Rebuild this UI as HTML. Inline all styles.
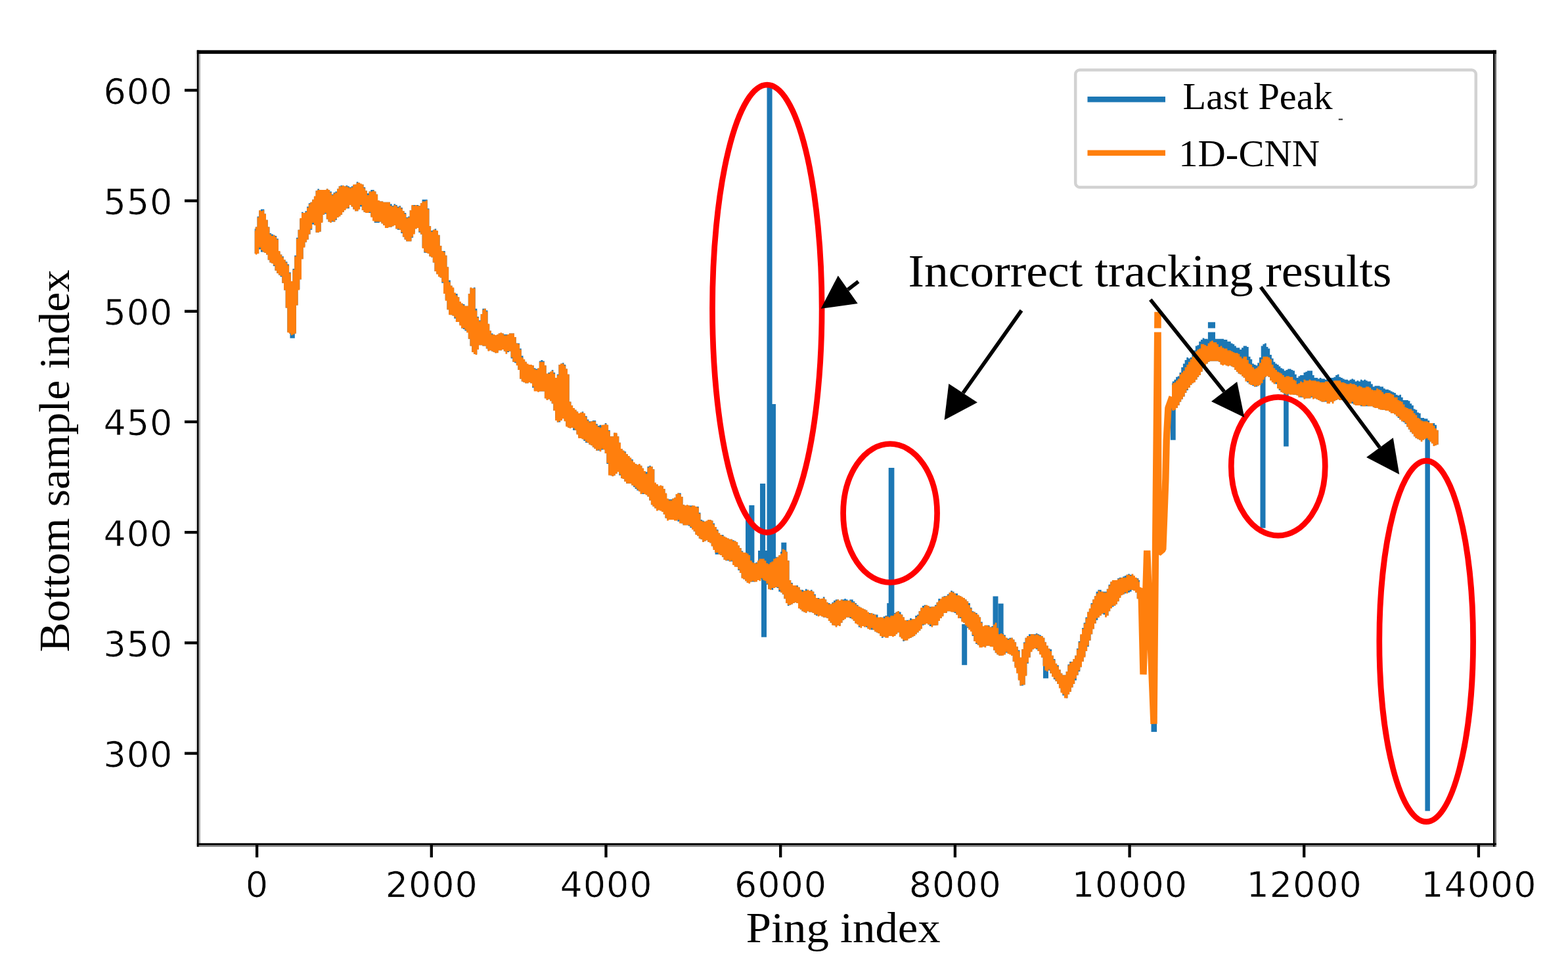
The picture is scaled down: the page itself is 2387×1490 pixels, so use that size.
<!DOCTYPE html>
<html lang="en"><head><meta charset="utf-8"><title>Bottom tracking comparison</title>
<style>html,body{margin:0;padding:0;background:#fff;}body{width:2387px;height:1490px;overflow:hidden;}svg{display:block;}.tk{font-family:"DejaVu Sans","Liberation Sans",sans-serif;font-size:54px;letter-spacing:0.9px;fill:#000;stroke:#fff;stroke-width:0.7px;}.sf{font-family:"Liberation Serif","DejaVu Serif",serif;fill:#000;}</style></head><body>
<svg width="2387" height="1490" viewBox="0 0 2387 1490">
<defs><filter id="soft" x="-2%" y="-2%" width="104%" height="104%"><feGaussianBlur stdDeviation="0.55"/></filter></defs>
<rect width="2387" height="1490" fill="#fff"/>
<g id="curves" filter="url(#soft)">
<g id="last-peak" fill="#1f77b4" stroke="none">
<path d="M387.7 348.3 V348.3 H388.8 V345.6 H391.5 V329.4 H394.2 V321.3 H396.9 V318.6 H399.6 V318.6 H402.3 V325.4 H405 V334.8 H407.7 V345.6 H410.4 V355.1 H413.1 V356.4 H415.8 V357.8 H418.5 V359.1 H421.2 V363.2 H423.9 V383.4 H426.6 V387.5 H429.3 V390.2 H432 V395.6 H434.7 V398.2 H437.4 V402.3 H440.1 V414.5 H442.8 V428 H445.5 V409.1 H448.2 V388.8 H450.9 V361.8 H453.6 V349.7 H456.3 V333.5 H459 V322.7 H461.7 V324 H464.4 V321.3 H467.1 V314.6 H469.8 V309.2 H472.5 V307.8 H475.2 V303.8 H477.9 V299.7 H480.6 V290.2 H483.3 V287.6 H486 V290.2 H488.7 V288.9 H491.4 V288.9 H494.1 V288.9 H496.8 V287.6 H499.5 V288.9 H502.2 V291.6 H504.9 V295.7 H507.6 V293 H510.3 V291.6 H513 V287.6 H515.7 V283.5 H518.4 V282.2 H521.1 V284.9 H523.8 V283.5 H526.5 V282.2 H529.2 V283.5 H531.9 V284.9 H534.6 V283.5 H537.3 V282.2 H540 V280.8 H542.7 V276.8 H545.4 V278.1 H548.1 V280.8 H550.8 V280.8 H553.5 V284.9 H556.2 V290.2 H558.9 V294.3 H561.6 V291.6 H564.3 V288.9 H567 V288.9 H569.7 V291.6 H572.4 V295.7 H575.1 V305.1 H577.8 V306.5 H580.5 V306.5 H583.2 V307.8 H585.9 V307.8 H588.6 V307.8 H591.3 V307.8 H594 V310.5 H596.7 V313.2 H599.4 V310.5 H602.1 V311.9 H604.8 V314.6 H607.5 V313.2 H610.2 V315.9 H612.9 V321.3 H615.6 V324 H618.3 V330.8 H621 V329.4 H623.7 V320 H626.4 V313.2 H629.1 V311.9 H631.8 V311.9 H634.5 V311.9 H637.2 V313.2 H639.9 V309.2 H642.6 V303.8 H645.3 V303.8 H648 V303.8 H650.7 V317.2 H653.4 V344.2 H656.1 V351 H658.8 V349.7 H661.5 V348.3 H664.2 V352.4 H666.9 V357.8 H669.6 V374 H672.3 V382.1 H675 V382.1 H677.7 V388.8 H680.4 V406.4 H683.1 V426.6 H685.8 V434.7 H688.5 V438.8 H691.2 V446.9 H693.9 V446.9 H696.6 V452.3 H699.3 V459 H702 V461.7 H704.7 V463.1 H707.4 V465.8 H710.1 V465.8 H712.8 V446.9 H715.5 V438.8 H718.2 V438.8 H720.9 V437.4 H723.6 V469.8 H726.3 V482 H729 V487.4 H731.7 V477.9 H734.4 V469.8 H737.1 V469.8 H739.8 V472.5 H742.5 V494.1 H745.2 V503.6 H747.9 V507.6 H750.6 V509 H753.3 V510.3 H756 V509 H758.7 V507.6 H761.4 V507.6 H764.1 V507.6 H766.8 V509 H769.5 V509 H772.2 V509 H774.9 V507.6 H777.6 V507.6 H780.3 V507.6 H783 V513 H785.7 V522.5 H788.4 V522.5 H791.1 V530.6 H793.8 V541.4 H796.5 V548.1 H799.2 V550.8 H801.9 V554.9 H804.6 V554.9 H807.3 V554.9 H810 V556.2 H812.7 V560.2 H815.4 V561.6 H818.1 V561.6 H820.8 V549.5 H823.5 V548.1 H826.2 V549.5 H828.9 V556.2 H831.6 V569.7 H834.3 V567 H837 V565.7 H839.7 V563 H842.4 V567 H845.1 V575.1 H847.8 V569.7 H850.5 V554.9 H853.2 V553.5 H855.9 V552.2 H858.6 V554.9 H861.3 V561.6 H864 V569.7 H866.7 V611.6 H869.4 V617 H872.1 V621 H874.8 V623.7 H877.5 V626.4 H880.2 V629.1 H882.9 V630.5 H885.6 V626.4 H888.3 V629.1 H891 V633.2 H893.7 V638.6 H896.4 V641.2 H899.1 V641.2 H901.8 V639.9 H904.5 V639.9 H907.2 V645.3 H909.9 V648 H912.6 V646.7 H915.3 V648 H918 V646.7 H920.7 V644 H923.4 V646.7 H926.1 V654.8 H928.8 V664.2 H931.5 V664.2 H934.2 V658.8 H936.9 V660.2 H939.6 V664.2 H942.3 V673.7 H945 V683.1 H947.7 V685.8 H950.4 V687.2 H953.1 V691.2 H955.8 V693.9 H958.5 V698 H961.2 V699.3 H963.9 V704.7 H966.6 V706.1 H969.3 V707.4 H972 V707.4 H974.7 V708.8 H977.4 V712.8 H980.1 V716.9 H982.8 V718.2 H985.5 V710.1 H988.2 V708.8 H990.9 V710.1 H993.6 V714.2 H996.3 V735.8 H999 V737.1 H1001.7 V739.8 H1004.4 V741.2 H1007.1 V739.8 H1009.8 V743.9 H1012.5 V752 H1015.2 V760.1 H1017.9 V760.1 H1020.6 V760.1 H1023.3 V758.7 H1026 V757.4 H1028.7 V752 H1031.4 V750.6 H1034.1 V750.6 H1036.8 V756 H1039.5 V768.2 H1042.2 V769.5 H1044.9 V769.5 H1047.6 V769.5 H1050.3 V769.5 H1053 V769.5 H1055.7 V770.9 H1058.4 V770.9 H1061.1 V770.9 H1063.8 V780.3 H1066.5 V791.1 H1069.2 V792.5 H1071.9 V793.8 H1074.6 V793.8 H1077.3 V791.1 H1080 V791.1 H1082.7 V792.5 H1085.4 V796.5 H1088.1 V801.9 H1090.8 V806 H1093.5 V811.4 H1096.2 V814.1 H1098.9 V814.1 H1101.6 V816.8 H1104.3 V818.1 H1107 V819.5 H1109.7 V820.8 H1112.4 V820.8 H1115.1 V822.2 H1117.8 V823.5 H1120.5 V826.2 H1123.2 V830.2 H1125.9 V834.3 H1128.6 V838.4 H1131.3 V842.4 H1134 V842.4 H1136.7 V842.4 H1139.4 V845.1 H1142.1 V853.2 H1144.8 V855.9 H1147.5 V857.2 H1150.2 V855.9 H1152.9 V854.6 H1155.6 V851.9 H1158.3 V849.2 H1161 V847.8 H1163.7 V853.2 H1166.4 V855.9 H1169.1 V855.9 H1171.8 V855.9 H1174.5 V853.2 H1177.2 V850.5 H1179.9 V847.8 H1182.6 V847.8 H1185.3 V845.1 H1188 V839.7 H1190.7 V834.3 H1193.4 V835.7 H1196.1 V839.7 H1198.8 V853.2 H1201.5 V882.9 H1204.2 V887 H1206.9 V891 H1209.6 V891 H1212.3 V891 H1215 V893.7 H1217.7 V897.8 H1220.4 V897.8 H1223.1 V899.1 H1225.8 V896.4 H1228.5 V897.8 H1231.2 V899.1 H1233.9 V897.8 H1236.6 V900.5 H1239.3 V904.5 H1242 V909.9 H1244.7 V909.9 H1247.4 V912.6 H1250.1 V911.3 H1252.8 V908.6 H1255.5 V912.6 H1258.2 V916.7 H1260.9 V918 H1263.6 V919.4 H1266.3 V916.7 H1269 V914 H1271.7 V912.6 H1274.4 V912.6 H1277.1 V914 H1279.8 V912.6 H1282.5 V912.6 H1285.2 V911.3 H1287.9 V912.6 H1290.6 V914 H1293.3 V912.6 H1296 V912.6 H1298.7 V915.3 H1301.4 V918 H1304.1 V920.7 H1306.8 V923.4 H1309.5 V924.8 H1312.2 V926.1 H1314.9 V927.5 H1317.6 V928.8 H1320.3 V932.9 H1323 V932.9 H1325.7 V935.6 H1328.4 V934.2 H1331.1 V935.6 H1333.8 V935.6 H1336.5 V941 H1339.2 V939.6 H1341.9 V941 H1344.6 V938.3 H1347.3 V936.9 H1350 V936.9 H1352.7 V938.3 H1355.4 V936.9 H1358.1 V935.6 H1360.8 V932.9 H1363.5 V931.5 H1366.2 V930.2 H1368.9 V931.5 H1371.6 V935.6 H1374.3 V939.6 H1377 V945 H1379.7 V943.7 H1382.4 V943.7 H1385.1 V941 H1387.8 V942.3 H1390.5 V942.3 H1393.2 V936.9 H1395.9 V935.6 H1398.6 V930.2 H1401.3 V926.1 H1404 V922.1 H1406.7 V920.7 H1409.4 V922.1 H1412.1 V923.4 H1414.8 V923.4 H1417.5 V923.4 H1420.2 V923.4 H1422.9 V920.7 H1425.6 V916.7 H1428.3 V911.3 H1431 V912.6 H1433.7 V908.6 H1436.4 V907.2 H1439.1 V907.2 H1441.8 V904.5 H1444.5 V903.2 H1447.2 V899.1 H1449.9 V900.5 H1452.6 V903.2 H1455.3 V903.2 H1458 V905.9 H1460.7 V907.2 H1463.4 V909.9 H1466.1 V909.9 H1468.8 V912.6 H1471.5 V915.3 H1474.2 V918 H1476.9 V924.8 H1479.6 V930.2 H1482.3 V931.5 H1485 V932.9 H1487.7 V936.9 H1490.4 V939.6 H1493.1 V946.4 H1495.8 V953.1 H1498.5 V951.8 H1501.2 V951.8 H1503.9 V951.8 H1506.6 V954.5 H1509.3 V953.1 H1512 V951.8 H1514.7 V949.1 H1517.4 V955.8 H1520.1 V962.6 H1522.8 V965.3 H1525.5 V963.9 H1528.2 V966.6 H1530.9 V970.7 H1533.6 V972 H1536.3 V970.7 H1539 V970.7 H1541.7 V973.4 H1544.4 V977.4 H1547.1 V984.2 H1549.8 V989.6 H1552.5 V1001.7 H1555.2 V988.2 H1557.9 V977.4 H1560.6 V970.7 H1563.3 V968 H1566 V965.3 H1568.7 V965.3 H1571.4 V965.3 H1574.1 V965.3 H1576.8 V963.9 H1579.5 V965.3 H1582.2 V966.6 H1584.9 V968 H1587.6 V970.7 H1590.3 V977.4 H1593 V982.8 H1595.7 V986.9 H1598.4 V988.2 H1601.1 V997.7 H1603.8 V1003.1 H1606.5 V1011.2 H1609.2 V1012.5 H1611.9 V1019.3 H1614.6 V1024.7 H1617.3 V1027.4 H1620 V1027.4 H1622.7 V1022 H1625.4 V1011.2 H1628.1 V1007.1 H1630.8 V1007.1 H1633.5 V1003.1 H1636.2 V997.7 H1638.9 V986.9 H1641.6 V976.1 H1644.3 V966.6 H1647 V955.8 H1649.7 V947.7 H1652.4 V939.6 H1655.1 V931.5 H1657.8 V927.5 H1660.5 V918 H1663.2 V912.6 H1665.9 V907.2 H1668.6 V900.5 H1671.3 V897.8 H1674 V897.8 H1676.7 V900.5 H1679.4 V900.5 H1682.1 V900.5 H1684.8 V896.4 H1687.5 V889.7 H1690.2 V885.6 H1692.9 V882.9 H1695.6 V882.9 H1698.3 V882.9 H1701 V880.2 H1703.7 V878.9 H1706.4 V878.9 H1709.1 V877.5 H1711.8 V876.2 H1714.5 V874.8 H1717.2 V873.5 H1719.9 V874.8 H1722.6 V874.8 H1725.3 V877.5 H1728 V880.2 H1730.7 V880.2 H1733.4 V882.9 H1735 V914 H1733.4 V911.3 H1730.7 V901.8 H1728 V899.1 H1725.3 V897.8 H1722.6 V900.5 H1719.9 V901.8 H1717.2 V901.8 H1714.5 V903.2 H1711.8 V904.5 H1709.1 V904.5 H1706.4 V908.6 H1703.7 V915.3 H1701 V919.4 H1698.3 V922.1 H1695.6 V923.4 H1692.9 V926.1 H1690.2 V930.2 H1687.5 V936.9 H1684.8 V938.3 H1682.1 V935.6 H1679.4 V934.2 H1676.7 V936.9 H1674 V939.6 H1671.3 V943.7 H1668.6 V949.1 H1665.9 V957.2 H1663.2 V965.3 H1660.5 V974.7 H1657.8 V984.2 H1655.1 V990.9 H1652.4 V999 H1649.7 V1007.1 H1647 V1015.2 H1644.3 V1022 H1641.6 V1027.4 H1638.9 V1035.5 H1636.2 V1040.9 H1633.5 V1046.2 H1630.8 V1053 H1628.1 V1057.1 H1625.4 V1062.5 H1622.7 V1061.1 H1620 V1058.4 H1617.3 V1053 H1614.6 V1044.9 H1611.9 V1040.9 H1609.2 V1036.8 H1606.5 V1034.1 H1603.8 V1030 H1601.1 V1024.7 H1598.4 V1020.6 H1595.7 V1020.6 H1593 V1020.6 H1590.3 V1012.5 H1587.6 V1000.4 H1584.9 V995 H1582.2 V990.9 H1579.5 V988.2 H1576.8 V986.9 H1574.1 V988.2 H1571.4 V990.9 H1568.7 V1000.4 H1566 V1009.8 H1563.3 V1027.4 H1560.6 V1042.2 H1557.9 V1043.6 H1555.2 V1043.6 H1552.5 V1034.1 H1549.8 V1020.6 H1547.1 V1013.9 H1544.4 V1007.1 H1541.7 V997.7 H1539 V995 H1536.3 V993.6 H1533.6 V993.6 H1530.9 V996.3 H1528.2 V995 H1525.5 V997.7 H1522.8 V997.7 H1520.1 V996.3 H1517.4 V993.6 H1514.7 V989.6 H1512 V984.2 H1509.3 V981.5 H1506.6 V982.8 H1503.9 V982.8 H1501.2 V984.2 H1498.5 V984.2 H1495.8 V984.2 H1493.1 V982.8 H1490.4 V981.5 H1487.7 V980.1 H1485 V976.1 H1482.3 V968 H1479.6 V958.5 H1476.9 V957.2 H1474.2 V955.8 H1471.5 V951.8 H1468.8 V947.7 H1466.1 V945 H1463.4 V941 H1460.7 V938.3 H1458 V935.6 H1455.3 V932.9 H1452.6 V931.5 H1449.9 V930.2 H1447.2 V930.2 H1444.5 V930.2 H1441.8 V932.9 H1439.1 V931.5 H1436.4 V936.9 H1433.7 V941 H1431 V945 H1428.3 V950.4 H1425.6 V951.8 H1422.9 V951.8 H1420.2 V953.1 H1417.5 V953.1 H1414.8 V950.4 H1412.1 V949.1 H1409.4 V950.4 H1406.7 V951.8 H1404 V955.8 H1401.3 V959.9 H1398.6 V962.6 H1395.9 V965.3 H1393.2 V968 H1390.5 V969.3 H1387.8 V970.7 H1385.1 V970.7 H1382.4 V973.4 H1379.7 V974.7 H1377 V976.1 H1374.3 V970.7 H1371.6 V969.3 H1368.9 V962.6 H1366.2 V963.9 H1363.5 V966.6 H1360.8 V966.6 H1358.1 V968 H1355.4 V968 H1352.7 V969.3 H1350 V969.3 H1347.3 V969.3 H1344.6 V970.7 H1341.9 V966.6 H1339.2 V963.9 H1336.5 V962.6 H1333.8 V961.2 H1331.1 V958.5 H1328.4 V958.5 H1325.7 V957.2 H1323 V955.8 H1320.3 V954.5 H1317.6 V951.8 H1314.9 V953.1 H1312.2 V953.1 H1309.5 V954.5 H1306.8 V949.1 H1304.1 V947.7 H1301.4 V945 H1298.7 V942.3 H1296 V941 H1293.3 V939.6 H1290.6 V939.6 H1287.9 V941 H1285.2 V943.7 H1282.5 V947.7 H1279.8 V951.8 H1277.1 V951.8 H1274.4 V953.1 H1271.7 V951.8 H1269 V950.4 H1266.3 V947.7 H1263.6 V945 H1260.9 V941 H1258.2 V939.6 H1255.5 V939.6 H1252.8 V938.3 H1250.1 V936.9 H1247.4 V934.2 H1244.7 V936.9 H1242 V935.6 H1239.3 V932.9 H1236.6 V931.5 H1233.9 V931.5 H1231.2 V930.2 H1228.5 V931.5 H1225.8 V931.5 H1223.1 V930.2 H1220.4 V927.5 H1217.7 V926.1 H1215 V918 H1212.3 V916.7 H1209.6 V918 H1206.9 V919.4 H1204.2 V920.7 H1201.5 V922.1 H1198.8 V918 H1196.1 V911.3 H1193.4 V904.5 H1190.7 V901.8 H1188 V900.5 H1185.3 V895.1 H1182.6 V893.7 H1179.9 V895.1 H1177.2 V897.8 H1174.5 V896.4 H1171.8 V896.4 H1169.1 V889.7 H1166.4 V882.9 H1163.7 V882.9 H1161 V881.6 H1158.3 V881.6 H1155.6 V882.9 H1152.9 V884.3 H1150.2 V885.6 H1147.5 V885.6 H1144.8 V885.6 H1142.1 V887 H1139.4 V887 H1136.7 V884.3 H1134 V881.6 H1131.3 V878.9 H1128.6 V872.1 H1125.9 V868.1 H1123.2 V862.7 H1120.5 V861.3 H1117.8 V858.6 H1115.1 V854.6 H1112.4 V854.6 H1109.7 V853.2 H1107 V853.2 H1104.3 V851.9 H1101.6 V847.8 H1098.9 V845.1 H1096.2 V843.8 H1093.5 V842.4 H1090.8 V841.1 H1088.1 V834.3 H1085.4 V830.2 H1082.7 V826.2 H1080 V824.9 H1077.3 V822.2 H1074.6 V823.5 H1071.9 V824.9 H1069.2 V820.8 H1066.5 V819.5 H1063.8 V815.4 H1061.1 V812.7 H1058.4 V808.7 H1055.7 V806 H1053 V803.2 H1050.3 V800.6 H1047.6 V799.2 H1044.9 V799.2 H1042.2 V799.2 H1039.5 V796.5 H1036.8 V792.5 H1034.1 V793.8 H1031.4 V789.8 H1028.7 V791.1 H1026 V791.1 H1023.3 V791.1 H1020.6 V791.1 H1017.9 V789.8 H1015.2 V788.4 H1012.5 V783 H1009.8 V779 H1007.1 V776.2 H1004.4 V776.2 H1001.7 V776.2 H999 V773.6 H996.3 V770.9 H993.6 V768.2 H990.9 V761.4 H988.2 V756 H985.5 V753.3 H982.8 V752 H980.1 V752 H977.4 V750.6 H974.7 V747.9 H972 V746.6 H969.3 V743.9 H966.6 V741.2 H963.9 V738.5 H961.2 V735.8 H958.5 V735.8 H955.8 V735.8 H953.1 V733.1 H950.4 V729 H947.7 V727.7 H945 V723.6 H942.3 V716.9 H939.6 V720.9 H936.9 V723.6 H934.2 V725 H931.5 V723.6 H928.8 V722.2 H926.1 V706.1 H923.4 V689.9 H920.7 V683.1 H918 V684.5 H915.3 V685.8 H912.6 V685.8 H909.9 V685.8 H907.2 V683.1 H904.5 V680.4 H901.8 V677.7 H899.1 V676.4 H896.4 V673.7 H893.7 V673.7 H891 V671 H888.3 V668.2 H885.6 V665.6 H882.9 V665.6 H880.2 V660.2 H877.5 V654.8 H874.8 V654.8 H872.1 V650.7 H869.4 V650.7 H866.7 V650.7 H864 V648 H861.3 V639.9 H858.6 V635.9 H855.9 V639.9 H853.2 V642.6 H850.5 V642.6 H847.8 V637.2 H845.1 V625.1 H842.4 V614.2 H839.7 V610.2 H837 V607.5 H834.3 V607.5 H831.6 V606.2 H828.9 V595.4 H826.2 V595.4 H823.5 V595.4 H820.8 V595.4 H818.1 V592.7 H815.4 V592.7 H812.7 V590 H810 V583.2 H807.3 V581.9 H804.6 V583.2 H801.9 V583.2 H799.2 V581.9 H796.5 V580.5 H793.8 V576.5 H791.1 V563 H788.4 V553.5 H785.7 V552.2 H783 V550.8 H780.3 V545.4 H777.6 V534.6 H774.9 V536 H772.2 V536 H769.5 V534.6 H766.8 V531.9 H764.1 V533.2 H761.4 V533.2 H758.7 V536 H756 V537.3 H753.3 V536 H750.6 V534.6 H747.9 V533.2 H745.2 V533.2 H742.5 V530.6 H739.8 V526.5 H737.1 V526.5 H734.4 V525.2 H731.7 V525.2 H729 V531.9 H726.3 V538.7 H723.6 V538.7 H720.9 V536 H718.2 V526.5 H715.5 V515.7 H712.8 V503.6 H710.1 V503.6 H707.4 V500.9 H704.7 V499.5 H702 V494.1 H699.3 V490.1 H696.6 V490.1 H693.9 V484.7 H691.2 V480.6 H688.5 V479.3 H685.8 V477.9 H683.1 V471.2 H680.4 V456.3 H677.7 V446.9 H675 V430.7 H672.3 V422.6 H669.6 V417.2 H666.9 V417.2 H664.2 V413.1 H661.5 V399.6 H658.8 V391.5 H656.1 V390.2 H653.4 V386.1 H650.7 V384.8 H648 V384.8 H645.3 V376.7 H642.6 V356.4 H639.9 V353.7 H637.2 V347 H634.5 V348.3 H631.8 V353.7 H629.1 V361.8 H626.4 V367.2 H623.7 V367.2 H621 V367.2 H618.3 V364.5 H615.6 V360.5 H612.9 V355.1 H610.2 V349.7 H607.5 V349.7 H604.8 V348.3 H602.1 V342.9 H599.4 V344.2 H596.7 V345.6 H594 V345.6 H591.3 V345.6 H588.6 V345.6 H585.9 V342.9 H583.2 V340.2 H580.5 V337.5 H577.8 V338.9 H575.1 V338.9 H572.4 V338.9 H569.7 V334.8 H567 V329.4 H564.3 V324 H561.6 V324 H558.9 V324 H556.2 V322.7 H553.5 V320 H550.8 V314.6 H548.1 V318.6 H545.4 V321.3 H542.7 V321.3 H540 V318.6 H537.3 V314.6 H534.6 V311.9 H531.9 V317.2 H529.2 V317.2 H526.5 V318.6 H523.8 V322.7 H521.1 V326.7 H518.4 V328.1 H515.7 V330.8 H513 V334.8 H510.3 V337.5 H507.6 V337.5 H504.9 V337.5 H502.2 V337.5 H499.5 V333.5 H496.8 V325.4 H494.1 V326.7 H491.4 V337.5 H488.7 V352.4 H486 V353.7 H483.3 V353.7 H480.6 V342.9 H477.9 V341.6 H475.2 V349.7 H472.5 V356.4 H469.8 V364.5 H467.1 V368.6 H464.4 V375.3 H461.7 V394.2 H459 V425.2 H456.3 V440.1 H453.6 V464.4 H450.9 V507.6 H448.2 V510.3 H445.5 V506.3 H442.8 V507.6 H440.1 V504.9 H437.4 V468.5 H434.7 V441.5 H432 V430.7 H429.3 V421.2 H426.6 V418.5 H423.9 V415.8 H421.2 V411.8 H418.5 V405 H415.8 V401 H413.1 V399.6 H410.4 V395.6 H407.7 V387.5 H405 V384.8 H402.3 V383.4 H399.6 V383.4 H396.9 V379.4 H394.2 V386.1 H391.5 V386.1 H388.8 V386.1 H387.7 Z"/>
<path d="M1784 583.2 V583.2 H1784.7 V580.5 H1787.4 V577.8 H1790.1 V573.8 H1792.8 V572.4 H1795.5 V567 H1798.2 V558.9 H1800.9 V553.5 H1803.6 V548.1 H1806.3 V544.1 H1809 V545.4 H1811.7 V544.1 H1814.4 V537.3 H1817.1 V533.2 H1819.8 V526.5 H1822.5 V525.2 H1825.2 V519.8 H1827.9 V517.1 H1830.6 V514.4 H1833.3 V515.7 H1836 V515.7 H1838.7 V517.1 H1841.4 V515.7 H1844.1 V517.1 H1846.8 V515.7 H1849.5 V515.7 H1852.2 V515.7 H1854.9 V515.7 H1857.6 V515.7 H1860.3 V515.7 H1863 V517.1 H1865.7 V517.1 H1868.4 V519.8 H1871.1 V519.8 H1873.8 V522.5 H1876.5 V523.8 H1879.2 V526.5 H1881.9 V529.2 H1884.6 V529.2 H1887.3 V531.9 H1890 V529.2 H1892.7 V526.5 H1895.4 V526.5 H1898.1 V527.9 H1900.8 V542.7 H1903.5 V546.8 H1906.2 V553.5 H1908.9 V554.9 H1911.6 V556.2 H1914.3 V552.2 H1917 V544.1 H1919.7 V526.5 H1922.4 V523.8 H1925.1 V522.5 H1927.8 V527.9 H1930.5 V530.6 H1933.2 V540 H1935.9 V545.4 H1938.6 V550.8 H1941.3 V553.5 H1944 V554.9 H1946.7 V557.6 H1949.4 V560.2 H1952.1 V561.6 H1954.8 V564.3 H1957.5 V563 H1960.2 V561.6 H1962.9 V561.6 H1965.6 V563 H1968.3 V564.3 H1971 V569.7 H1973.7 V575.1 H1976.4 V572.4 H1979.1 V571.1 H1981.8 V571.1 H1984.5 V567 H1987.2 V565.7 H1989.9 V564.3 H1992.6 V564.3 H1995.3 V564.3 H1998 V571.1 H2000.7 V575.1 H2003.4 V575.1 H2006.1 V576.5 H2008.8 V575.1 H2011.5 V576.5 H2014.2 V576.5 H2016.9 V577.8 H2019.6 V576.5 H2022.3 V575.1 H2025 V575.1 H2027.7 V575.1 H2030.4 V573.8 H2033.1 V571.1 H2035.8 V569.7 H2038.5 V573.8 H2041.2 V575.1 H2043.9 V576.5 H2046.6 V577.8 H2049.3 V577.8 H2052 V579.2 H2054.7 V577.8 H2057.4 V576.5 H2060.1 V577.8 H2062.8 V580.5 H2065.5 V579.2 H2068.2 V580.5 H2070.9 V577.8 H2073.6 V579.2 H2076.3 V577.8 H2079 V579.2 H2081.7 V580.5 H2084.4 V580.5 H2087.1 V584.6 H2089.8 V588.6 H2092.5 V587.2 H2095.2 V587.2 H2097.9 V587.2 H2100.6 V588.6 H2103.3 V588.6 H2106 V591.3 H2108.7 V592.7 H2111.4 V592.7 H2114.1 V594 H2116.8 V595.4 H2119.5 V596.7 H2122.2 V598.1 H2124.9 V600.8 H2127.6 V602.1 H2130.3 V600.8 H2133 V604.8 H2135.7 V608.9 H2138.4 V608.9 H2141.1 V608.9 H2143.8 V610.2 H2146.5 V614.2 H2149.2 V617 H2151.9 V622.4 H2154.6 V623.7 H2157.3 V627.8 H2160 V629.1 H2162.7 V635.9 H2165.4 V635.9 H2168.1 V637.2 H2170.8 V637.2 H2173.5 V639.9 H2176.2 V645.3 H2178.9 V644 H2181.6 V644 H2184.3 V646.7 H2187 V654.8 H2189.7 V676.4 H2187 V677.7 H2184.3 V677.7 H2181.6 V675 H2178.9 V672.3 H2176.2 V669.6 H2173.5 V666.9 H2170.8 V666.9 H2168.1 V669.6 H2165.4 V669.6 H2162.7 V669.6 H2160 V668.2 H2157.3 V666.9 H2154.6 V664.2 H2151.9 V660.2 H2149.2 V657.5 H2146.5 V653.4 H2143.8 V649.4 H2141.1 V645.3 H2138.4 V642.6 H2135.7 V641.2 H2133 V638.6 H2130.3 V635.9 H2127.6 V633.2 H2124.9 V630.5 H2122.2 V629.1 H2119.5 V627.8 H2116.8 V626.4 H2114.1 V625.1 H2111.4 V625.1 H2108.7 V623.7 H2106 V623.7 H2103.3 V622.4 H2100.6 V622.4 H2097.9 V621 H2095.2 V621 H2092.5 V619.7 H2089.8 V618.3 H2087.1 V618.3 H2084.4 V618.3 H2081.7 V618.3 H2079 V618.3 H2076.3 V618.3 H2073.6 V618.3 H2070.9 V617 H2068.2 V617 H2065.5 V617 H2062.8 V615.6 H2060.1 V614.2 H2057.4 V612.9 H2054.7 V611.6 H2052 V611.6 H2049.3 V610.2 H2046.6 V610.2 H2043.9 V608.9 H2041.2 V608.9 H2038.5 V607.5 H2035.8 V608.9 H2033.1 V610.2 H2030.4 V611.6 H2027.7 V611.6 H2025 V611.6 H2022.3 V611.6 H2019.6 V611.6 H2016.9 V611.6 H2014.2 V611.6 H2011.5 V610.2 H2008.8 V608.9 H2006.1 V607.5 H2003.4 V606.2 H2000.7 V606.2 H1998 V604.8 H1995.3 V606.2 H1992.6 V606.2 H1989.9 V606.2 H1987.2 V606.2 H1984.5 V604.8 H1981.8 V604.8 H1979.1 V603.5 H1976.4 V602.1 H1973.7 V600.8 H1971 V600.8 H1968.3 V599.4 H1965.6 V599.4 H1962.9 V599.4 H1960.2 V599.4 H1957.5 V599.4 H1954.8 V598.1 H1952.1 V596.7 H1949.4 V594 H1946.7 V588.6 H1944 V584.6 H1941.3 V583.2 H1938.6 V581.9 H1935.9 V577.8 H1933.2 V573.8 H1930.5 V571.1 H1927.8 V573.8 H1925.1 V577.8 H1922.4 V580.5 H1919.7 V584.6 H1917 V587.2 H1914.3 V588.6 H1911.6 V588.6 H1908.9 V587.2 H1906.2 V585.9 H1903.5 V584.6 H1900.8 V581.9 H1898.1 V577.8 H1895.4 V575.1 H1892.7 V572.4 H1890 V569.7 H1887.3 V568.4 H1884.6 V565.7 H1881.9 V563 H1879.2 V558.9 H1876.5 V557.6 H1873.8 V556.2 H1871.1 V556.2 H1868.4 V556.2 H1865.7 V554.9 H1863 V554.9 H1860.3 V553.5 H1857.6 V550.8 H1854.9 V549.5 H1852.2 V549.5 H1849.5 V549.5 H1846.8 V549.5 H1844.1 V549.5 H1841.4 V550.8 H1838.7 V553.5 H1836 V554.9 H1833.3 V558.9 H1830.6 V565.7 H1827.9 V571.1 H1825.2 V573.8 H1822.5 V577.8 H1819.8 V580.5 H1817.1 V583.2 H1814.4 V585.9 H1811.7 V590 H1809 V594 H1806.3 V598.1 H1803.6 V603.5 H1800.9 V607.5 H1798.2 V611.6 H1795.5 V617 H1792.8 V621 H1790.1 V623.7 H1787.4 V625.1 H1784.7 V626.4 H1784 Z"/>
<rect x="1167.5" y="132" width="8.1" height="748"/>
<rect x="1175" y="615" width="6" height="265"/>
<rect x="1140.3" y="769" width="8.1" height="91"/>
<rect x="1135" y="782.5" width="6" height="79.5"/>
<rect x="1157" y="736" width="8.1" height="144"/>
<rect x="1154" y="838" width="14.5" height="37"/>
<rect x="1159" y="870" width="8" height="99.7"/>
<rect x="1189.3" y="825.7" width="8" height="24.3"/>
<rect x="1088.6" y="835" width="5" height="8.8"/>
<rect x="1352.7" y="712" width="8.7" height="228"/>
<rect x="1350.2" y="918" width="3.8" height="22"/>
<rect x="1464.2" y="950" width="8" height="62.2"/>
<rect x="1511.5" y="907.5" width="8" height="52.5"/>
<rect x="1519.5" y="918.6" width="8.1" height="51.4"/>
<rect x="1588" y="1000" width="8" height="32.4"/>
<rect x="1752.5" y="1090" width="8.6" height="23.9"/>
<rect x="1781.9" y="620" width="7.8" height="49.7"/>
<rect x="1838.9" y="490.3" width="11.1" height="39.7"/>
<rect x="1918.5" y="560" width="8" height="243.7"/>
<rect x="1954.1" y="590" width="7.6" height="89.5"/>
<rect x="2169.4" y="660" width="7.5" height="574.3"/>
<rect x="441.5" y="500" width="7.3" height="14.7"/>
</g>
<g id="cnn" fill="#ff7f0e" stroke="none">
<path d="M387.7 351 V351 H388.8 V345.6 H391.5 V330.8 H394.2 V320 H396.9 V321.3 H399.6 V320 H402.3 V325.4 H405 V334.8 H407.7 V345.6 H410.4 V356.4 H413.1 V359.1 H415.8 V357.8 H418.5 V360.5 H421.2 V364.5 H423.9 V382.1 H426.6 V387.5 H429.3 V391.5 H432 V395.6 H434.7 V399.6 H437.4 V403.7 H440.1 V415.8 H442.8 V428 H445.5 V410.4 H448.2 V390.2 H450.9 V363.2 H453.6 V349.7 H456.3 V332.1 H459 V324 H461.7 V324 H464.4 V322.7 H467.1 V315.9 H469.8 V310.5 H472.5 V307.8 H475.2 V303.8 H477.9 V298.4 H480.6 V290.2 H483.3 V288.9 H486 V288.9 H488.7 V288.9 H491.4 V288.9 H494.1 V288.9 H496.8 V287.6 H499.5 V288.9 H502.2 V293 H504.9 V297 H507.6 V294.3 H510.3 V293 H513 V287.6 H515.7 V283.5 H518.4 V283.5 H521.1 V282.2 H523.8 V283.5 H526.5 V283.5 H529.2 V284.9 H531.9 V286.2 H534.6 V284.9 H537.3 V280.8 H540 V280.8 H542.7 V278.1 H545.4 V278.1 H548.1 V279.5 H550.8 V280.8 H553.5 V286.2 H556.2 V290.2 H558.9 V297 H561.6 V291.6 H564.3 V291.6 H567 V290.2 H569.7 V291.6 H572.4 V295.7 H575.1 V305.1 H577.8 V306.5 H580.5 V306.5 H583.2 V307.8 H585.9 V307.8 H588.6 V307.8 H591.3 V307.8 H594 V313.2 H596.7 V314.6 H599.4 V311.9 H602.1 V313.2 H604.8 V315.9 H607.5 V314.6 H610.2 V317.2 H612.9 V321.3 H615.6 V325.4 H618.3 V332.1 H621 V330.8 H623.7 V320 H626.4 V311.9 H629.1 V313.2 H631.8 V311.9 H634.5 V313.2 H637.2 V313.2 H639.9 V309.2 H642.6 V306.5 H645.3 V306.5 H648 V305.1 H650.7 V318.6 H653.4 V344.2 H656.1 V352.4 H658.8 V349.7 H661.5 V349.7 H664.2 V351 H666.9 V357.8 H669.6 V374 H672.3 V382.1 H675 V383.4 H677.7 V388.8 H680.4 V406.4 H683.1 V429.3 H685.8 V434.7 H688.5 V437.4 H691.2 V445.5 H693.9 V449.6 H696.6 V452.3 H699.3 V459 H702 V461.7 H704.7 V464.4 H707.4 V465.8 H710.1 V465.8 H712.8 V446.9 H715.5 V437.4 H718.2 V438.8 H720.9 V438.8 H723.6 V472.5 H726.3 V483.3 H729 V488.7 H731.7 V477.9 H734.4 V471.2 H737.1 V469.8 H739.8 V473.9 H742.5 V492.8 H745.2 V503.6 H747.9 V509 H750.6 V509 H753.3 V510.3 H756 V509 H758.7 V507.6 H761.4 V506.3 H764.1 V507.6 H766.8 V510.3 H769.5 V510.3 H772.2 V509 H774.9 V507.6 H777.6 V507.6 H780.3 V507.6 H783 V513 H785.7 V522.5 H788.4 V523.8 H791.1 V531.9 H793.8 V544.1 H796.5 V546.8 H799.2 V550.8 H801.9 V553.5 H804.6 V554.9 H807.3 V554.9 H810 V556.2 H812.7 V561.6 H815.4 V563 H818.1 V560.2 H820.8 V550.8 H823.5 V550.8 H826.2 V550.8 H828.9 V556.2 H831.6 V568.4 H834.3 V568.4 H837 V565.7 H839.7 V564.3 H842.4 V568.4 H845.1 V575.1 H847.8 V571.1 H850.5 V554.9 H853.2 V553.5 H855.9 V553.5 H858.6 V556.2 H861.3 V561.6 H864 V569.7 H866.7 V611.6 H869.4 V617 H872.1 V621 H874.8 V623.7 H877.5 V626.4 H880.2 V629.1 H882.9 V627.8 H885.6 V627.8 H888.3 V629.1 H891 V634.5 H893.7 V639.9 H896.4 V642.6 H899.1 V641.2 H901.8 V641.2 H904.5 V641.2 H907.2 V646.7 H909.9 V649.4 H912.6 V650.7 H915.3 V646.7 H918 V646.7 H920.7 V645.3 H923.4 V646.7 H926.1 V656.1 H928.8 V664.2 H931.5 V664.2 H934.2 V658.8 H936.9 V658.8 H939.6 V664.2 H942.3 V673.7 H945 V683.1 H947.7 V685.8 H950.4 V688.5 H953.1 V691.2 H955.8 V693.9 H958.5 V696.6 H961.2 V700.7 H963.9 V703.4 H966.6 V706.1 H969.3 V707.4 H972 V706.1 H974.7 V708.8 H977.4 V712.8 H980.1 V716.9 H982.8 V720.9 H985.5 V711.5 H988.2 V710.1 H990.9 V710.1 H993.6 V714.2 H996.3 V734.4 H999 V737.1 H1001.7 V739.8 H1004.4 V738.5 H1007.1 V739.8 H1009.8 V743.9 H1012.5 V750.6 H1015.2 V758.7 H1017.9 V761.4 H1020.6 V761.4 H1023.3 V758.7 H1026 V757.4 H1028.7 V752 H1031.4 V750.6 H1034.1 V752 H1036.8 V756 H1039.5 V768.2 H1042.2 V769.5 H1044.9 V768.2 H1047.6 V769.5 H1050.3 V770.9 H1053 V769.5 H1055.7 V769.5 H1058.4 V770.9 H1061.1 V772.2 H1063.8 V781.7 H1066.5 V792.5 H1069.2 V793.8 H1071.9 V793.8 H1074.6 V792.5 H1077.3 V791.1 H1080 V791.1 H1082.7 V792.5 H1085.4 V797.9 H1088.1 V801.9 H1090.8 V807.3 H1093.5 V811.4 H1096.2 V814.1 H1098.9 V815.4 H1101.6 V816.8 H1104.3 V818.1 H1107 V819.5 H1109.7 V820.8 H1112.4 V820.8 H1115.1 V823.5 H1117.8 V823.5 H1120.5 V824.9 H1123.2 V830.2 H1125.9 V834.3 H1128.6 V839.7 H1131.3 V841.1 H1134 V841.1 H1136.7 V842.4 H1139.4 V845.1 H1142.1 V853.2 H1144.8 V855.9 H1147.5 V857.2 H1150.2 V857.2 H1152.9 V853.2 H1155.6 V850.5 H1158.3 V850.5 H1161 V850.5 H1163.7 V853.2 H1166.4 V857.2 H1169.1 V858.6 H1171.8 V855.9 H1174.5 V854.6 H1177.2 V850.5 H1179.9 V849.2 H1182.6 V847.8 H1185.3 V845.1 H1188 V842.4 H1190.7 V835.7 H1193.4 V837 H1196.1 V839.7 H1198.8 V853.2 H1201.5 V882.9 H1204.2 V888.3 H1206.9 V891 H1209.6 V891 H1212.3 V892.4 H1215 V893.7 H1217.7 V897.8 H1220.4 V900.5 H1223.1 V899.1 H1225.8 V899.1 H1228.5 V897.8 H1231.2 V899.1 H1233.9 V899.1 H1236.6 V900.5 H1239.3 V905.9 H1242 V909.9 H1244.7 V911.3 H1247.4 V911.3 H1250.1 V911.3 H1252.8 V909.9 H1255.5 V912.6 H1258.2 V916.7 H1260.9 V919.4 H1263.6 V919.4 H1266.3 V918 H1269 V916.7 H1271.7 V914 H1274.4 V912.6 H1277.1 V914 H1279.8 V912.6 H1282.5 V914 H1285.2 V914 H1287.9 V914 H1290.6 V914 H1293.3 V914 H1296 V916.7 H1298.7 V916.7 H1301.4 V919.4 H1304.1 V922.1 H1306.8 V923.4 H1309.5 V924.8 H1312.2 V926.1 H1314.9 V927.5 H1317.6 V928.8 H1320.3 V931.5 H1323 V934.2 H1325.7 V932.9 H1328.4 V935.6 H1331.1 V935.6 H1333.8 V939.6 H1336.5 V939.6 H1339.2 V939.6 H1341.9 V939.6 H1344.6 V941 H1347.3 V938.3 H1350 V938.3 H1352.7 V939.6 H1355.4 V936.9 H1358.1 V936.9 H1360.8 V934.2 H1363.5 V931.5 H1366.2 V930.2 H1368.9 V934.2 H1371.6 V935.6 H1374.3 V939.6 H1377 V943.7 H1379.7 V945 H1382.4 V943.7 H1385.1 V943.7 H1387.8 V942.3 H1390.5 V942.3 H1393.2 V939.6 H1395.9 V936.9 H1398.6 V930.2 H1401.3 V924.8 H1404 V924.8 H1406.7 V922.1 H1409.4 V920.7 H1412.1 V922.1 H1414.8 V924.8 H1417.5 V923.4 H1420.2 V923.4 H1422.9 V922.1 H1425.6 V916.7 H1428.3 V914 H1431 V911.3 H1433.7 V908.6 H1436.4 V908.6 H1439.1 V907.2 H1441.8 V905.9 H1444.5 V901.8 H1447.2 V900.5 H1449.9 V901.8 H1452.6 V903.2 H1455.3 V905.9 H1458 V905.9 H1460.7 V907.2 H1463.4 V908.6 H1466.1 V909.9 H1468.8 V912.6 H1471.5 V915.3 H1474.2 V920.7 H1476.9 V926.1 H1479.6 V931.5 H1482.3 V931.5 H1485 V934.2 H1487.7 V935.6 H1490.4 V939.6 H1493.1 V947.7 H1495.8 V953.1 H1498.5 V951.8 H1501.2 V951.8 H1503.9 V953.1 H1506.6 V954.5 H1509.3 V954.5 H1512 V950.4 H1514.7 V947.7 H1517.4 V955.8 H1520.1 V965.3 H1522.8 V963.9 H1525.5 V965.3 H1528.2 V968 H1530.9 V970.7 H1533.6 V973.4 H1536.3 V972 H1539 V970.7 H1541.7 V973.4 H1544.4 V977.4 H1547.1 V984.2 H1549.8 V990.9 H1552.5 V1000.4 H1555.2 V988.2 H1557.9 V978.8 H1560.6 V970.7 H1563.3 V968 H1566 V968 H1568.7 V965.3 H1571.4 V965.3 H1574.1 V966.6 H1576.8 V965.3 H1579.5 V966.6 H1582.2 V968 H1584.9 V968 H1587.6 V970.7 H1590.3 V977.4 H1593 V982.8 H1595.7 V986.9 H1598.4 V990.9 H1601.1 V997.7 H1603.8 V1004.4 H1606.5 V1009.8 H1609.2 V1013.9 H1611.9 V1019.3 H1614.6 V1024.7 H1617.3 V1027.4 H1620 V1027.4 H1622.7 V1022 H1625.4 V1012.5 H1628.1 V1008.5 H1630.8 V1007.1 H1633.5 V1003.1 H1636.2 V997.7 H1638.9 V988.2 H1641.6 V977.4 H1644.3 V965.3 H1647 V957.2 H1649.7 V949.1 H1652.4 V941 H1655.1 V931.5 H1657.8 V926.1 H1660.5 V919.4 H1663.2 V912.6 H1665.9 V907.2 H1668.6 V903.2 H1671.3 V899.1 H1674 V900.5 H1676.7 V900.5 H1679.4 V901.8 H1682.1 V901.8 H1684.8 V896.4 H1687.5 V891 H1690.2 V885.6 H1692.9 V882.9 H1695.6 V882.9 H1698.3 V882.9 H1701 V881.6 H1703.7 V880.2 H1706.4 V878.9 H1709.1 V878.9 H1711.8 V878.9 H1714.5 V874.8 H1717.2 V874.8 H1719.9 V876.2 H1722.6 V873.5 H1725.3 V876.2 H1728 V878.9 H1730.7 V881.6 H1733.4 V885.6 H1735 V916.7 H1733.4 V911.3 H1730.7 V901.8 H1728 V899.1 H1725.3 V897.8 H1722.6 V897.8 H1719.9 V899.1 H1717.2 V903.2 H1714.5 V901.8 H1711.8 V904.5 H1709.1 V905.9 H1706.4 V909.9 H1703.7 V915.3 H1701 V919.4 H1698.3 V922.1 H1695.6 V922.1 H1692.9 V926.1 H1690.2 V930.2 H1687.5 V936.9 H1684.8 V939.6 H1682.1 V932.9 H1679.4 V934.2 H1676.7 V936.9 H1674 V939.6 H1671.3 V941 H1668.6 V949.1 H1665.9 V957.2 H1663.2 V965.3 H1660.5 V974.7 H1657.8 V982.8 H1655.1 V990.9 H1652.4 V1000.4 H1649.7 V1007.1 H1647 V1015.2 H1644.3 V1020.6 H1641.6 V1027.4 H1638.9 V1032.8 H1636.2 V1040.9 H1633.5 V1046.2 H1630.8 V1053 H1628.1 V1057.1 H1625.4 V1062.5 H1622.7 V1062.5 H1620 V1057.1 H1617.3 V1054.4 H1614.6 V1047.6 H1611.9 V1040.9 H1609.2 V1036.8 H1606.5 V1032.8 H1603.8 V1030 H1601.1 V1024.7 H1598.4 V1019.3 H1595.7 V1022 H1593 V1020.6 H1590.3 V1013.9 H1587.6 V1000.4 H1584.9 V996.3 H1582.2 V990.9 H1579.5 V986.9 H1576.8 V986.9 H1574.1 V988.2 H1571.4 V992.3 H1568.7 V1000.4 H1566 V1008.5 H1563.3 V1028.7 H1560.6 V1042.2 H1557.9 V1042.2 H1555.2 V1043.6 H1552.5 V1035.5 H1549.8 V1024.7 H1547.1 V1016.6 H1544.4 V1007.1 H1541.7 V997.7 H1539 V996.3 H1536.3 V995 H1533.6 V992.3 H1530.9 V996.3 H1528.2 V997.7 H1525.5 V997.7 H1522.8 V997.7 H1520.1 V996.3 H1517.4 V993.6 H1514.7 V989.6 H1512 V984.2 H1509.3 V984.2 H1506.6 V982.8 H1503.9 V982.8 H1501.2 V985.5 H1498.5 V984.2 H1495.8 V985.5 H1493.1 V985.5 H1490.4 V981.5 H1487.7 V978.8 H1485 V976.1 H1482.3 V966.6 H1479.6 V961.2 H1476.9 V958.5 H1474.2 V954.5 H1471.5 V951.8 H1468.8 V947.7 H1466.1 V946.4 H1463.4 V939.6 H1460.7 V941 H1458 V935.6 H1455.3 V931.5 H1452.6 V931.5 H1449.9 V931.5 H1447.2 V930.2 H1444.5 V930.2 H1441.8 V932.9 H1439.1 V932.9 H1436.4 V938.3 H1433.7 V941 H1431 V945 H1428.3 V951.8 H1425.6 V951.8 H1422.9 V951.8 H1420.2 V954.5 H1417.5 V950.4 H1414.8 V950.4 H1412.1 V949.1 H1409.4 V950.4 H1406.7 V950.4 H1404 V957.2 H1401.3 V959.9 H1398.6 V962.6 H1395.9 V965.3 H1393.2 V968 H1390.5 V969.3 H1387.8 V970.7 H1385.1 V972 H1382.4 V974.7 H1379.7 V974.7 H1377 V974.7 H1374.3 V972 H1371.6 V969.3 H1368.9 V962.6 H1366.2 V965.3 H1363.5 V968 H1360.8 V969.3 H1358.1 V968 H1355.4 V968 H1352.7 V970.7 H1350 V970.7 H1347.3 V969.3 H1344.6 V969.3 H1341.9 V968 H1339.2 V963.9 H1336.5 V962.6 H1333.8 V961.2 H1331.1 V958.5 H1328.4 V955.8 H1325.7 V958.5 H1323 V957.2 H1320.3 V953.1 H1317.6 V954.5 H1314.9 V953.1 H1312.2 V955.8 H1309.5 V953.1 H1306.8 V950.4 H1304.1 V949.1 H1301.4 V945 H1298.7 V942.3 H1296 V939.6 H1293.3 V939.6 H1290.6 V939.6 H1287.9 V942.3 H1285.2 V943.7 H1282.5 V947.7 H1279.8 V953.1 H1277.1 V951.8 H1274.4 V954.5 H1271.7 V951.8 H1269 V951.8 H1266.3 V947.7 H1263.6 V945 H1260.9 V941 H1258.2 V939.6 H1255.5 V939.6 H1252.8 V938.3 H1250.1 V936.9 H1247.4 V938.3 H1244.7 V935.6 H1242 V935.6 H1239.3 V932.9 H1236.6 V931.5 H1233.9 V931.5 H1231.2 V930.2 H1228.5 V932.9 H1225.8 V931.5 H1223.1 V930.2 H1220.4 V927.5 H1217.7 V926.1 H1215 V918 H1212.3 V916.7 H1209.6 V918 H1206.9 V919.4 H1204.2 V920.7 H1201.5 V920.7 H1198.8 V918 H1196.1 V911.3 H1193.4 V904.5 H1190.7 V901.8 H1188 V897.8 H1185.3 V893.7 H1182.6 V893.7 H1179.9 V895.1 H1177.2 V895.1 H1174.5 V897.8 H1171.8 V896.4 H1169.1 V888.3 H1166.4 V884.3 H1163.7 V882.9 H1161 V880.2 H1158.3 V884.3 H1155.6 V882.9 H1152.9 V885.6 H1150.2 V885.6 H1147.5 V884.3 H1144.8 V885.6 H1142.1 V888.3 H1139.4 V887 H1136.7 V884.3 H1134 V881.6 H1131.3 V880.2 H1128.6 V872.1 H1125.9 V866.7 H1123.2 V862.7 H1120.5 V862.7 H1117.8 V860 H1115.1 V853.2 H1112.4 V854.6 H1109.7 V851.9 H1107 V853.2 H1104.3 V851.9 H1101.6 V847.8 H1098.9 V845.1 H1096.2 V843.8 H1093.5 V841.1 H1090.8 V841.1 H1088.1 V837 H1085.4 V831.6 H1082.7 V826.2 H1080 V824.9 H1077.3 V822.2 H1074.6 V823.5 H1071.9 V824.9 H1069.2 V820.8 H1066.5 V819.5 H1063.8 V815.4 H1061.1 V814.1 H1058.4 V808.7 H1055.7 V806 H1053 V801.9 H1050.3 V799.2 H1047.6 V799.2 H1044.9 V799.2 H1042.2 V799.2 H1039.5 V796.5 H1036.8 V796.5 H1034.1 V791.1 H1031.4 V792.5 H1028.7 V792.5 H1026 V791.1 H1023.3 V791.1 H1020.6 V791.1 H1017.9 V792.5 H1015.2 V788.4 H1012.5 V783 H1009.8 V779 H1007.1 V777.6 H1004.4 V776.2 H1001.7 V777.6 H999 V773.6 H996.3 V770.9 H993.6 V768.2 H990.9 V761.4 H988.2 V756 H985.5 V753.3 H982.8 V752 H980.1 V750.6 H977.4 V752 H974.7 V747.9 H972 V745.2 H969.3 V742.5 H966.6 V739.8 H963.9 V738.5 H961.2 V735.8 H958.5 V735.8 H955.8 V735.8 H953.1 V733.1 H950.4 V729 H947.7 V727.7 H945 V722.2 H942.3 V718.2 H939.6 V720.9 H936.9 V723.6 H934.2 V725 H931.5 V723.6 H928.8 V723.6 H926.1 V704.7 H923.4 V689.9 H920.7 V684.5 H918 V683.1 H915.3 V687.2 H912.6 V684.5 H909.9 V685.8 H907.2 V683.1 H904.5 V680.4 H901.8 V677.7 H899.1 V676.4 H896.4 V673.7 H893.7 V672.3 H891 V669.6 H888.3 V668.2 H885.6 V666.9 H882.9 V666.9 H880.2 V661.5 H877.5 V654.8 H874.8 V652.1 H872.1 V650.7 H869.4 V652.1 H866.7 V650.7 H864 V649.4 H861.3 V641.2 H858.6 V637.2 H855.9 V639.9 H853.2 V641.2 H850.5 V642.6 H847.8 V639.9 H845.1 V625.1 H842.4 V614.2 H839.7 V610.2 H837 V607.5 H834.3 V608.9 H831.6 V606.2 H828.9 V595.4 H826.2 V595.4 H823.5 V595.4 H820.8 V596.7 H818.1 V595.4 H815.4 V595.4 H812.7 V588.6 H810 V583.2 H807.3 V581.9 H804.6 V583.2 H801.9 V583.2 H799.2 V581.9 H796.5 V580.5 H793.8 V576.5 H791.1 V563 H788.4 V556.2 H785.7 V550.8 H783 V550.8 H780.3 V544.1 H777.6 V534.6 H774.9 V534.6 H772.2 V538.7 H769.5 V534.6 H766.8 V531.9 H764.1 V533.2 H761.4 V533.2 H758.7 V537.3 H756 V537.3 H753.3 V536 H750.6 V534.6 H747.9 V533.2 H745.2 V534.6 H742.5 V530.6 H739.8 V526.5 H737.1 V526.5 H734.4 V525.2 H731.7 V525.2 H729 V531.9 H726.3 V540 H723.6 V538.7 H720.9 V536 H718.2 V526.5 H715.5 V515.7 H712.8 V506.3 H710.1 V502.2 H707.4 V499.5 H704.7 V499.5 H702 V495.5 H699.3 V490.1 H696.6 V490.1 H693.9 V483.3 H691.2 V480.6 H688.5 V479.3 H685.8 V479.3 H683.1 V471.2 H680.4 V457.7 H677.7 V446.9 H675 V429.3 H672.3 V422.6 H669.6 V421.2 H666.9 V417.2 H664.2 V413.1 H661.5 V399.6 H658.8 V391.5 H656.1 V390.2 H653.4 V386.1 H650.7 V384.8 H648 V383.4 H645.3 V378 H642.6 V356.4 H639.9 V352.4 H637.2 V347 H634.5 V348.3 H631.8 V356.4 H629.1 V360.5 H626.4 V367.2 H623.7 V367.2 H621 V367.2 H618.3 V364.5 H615.6 V360.5 H612.9 V353.7 H610.2 V349.7 H607.5 V348.3 H604.8 V348.3 H602.1 V342.9 H599.4 V344.2 H596.7 V345.6 H594 V345.6 H591.3 V347 H588.6 V347 H585.9 V342.9 H583.2 V340.2 H580.5 V337.5 H577.8 V337.5 H575.1 V337.5 H572.4 V337.5 H569.7 V336.2 H567 V330.8 H564.3 V322.7 H561.6 V324 H558.9 V324 H556.2 V322.7 H553.5 V320 H550.8 V311.9 H548.1 V318.6 H545.4 V321.3 H542.7 V321.3 H540 V318.6 H537.3 V314.6 H534.6 V311.9 H531.9 V315.9 H529.2 V317.2 H526.5 V320 H523.8 V322.7 H521.1 V326.7 H518.4 V329.4 H515.7 V330.8 H513 V333.5 H510.3 V337.5 H507.6 V336.2 H504.9 V338.9 H502.2 V337.5 H499.5 V333.5 H496.8 V324 H494.1 V326.7 H491.4 V338.9 H488.7 V352.4 H486 V353.7 H483.3 V353.7 H480.6 V342.9 H477.9 V338.9 H475.2 V348.3 H472.5 V356.4 H469.8 V364.5 H467.1 V368.6 H464.4 V376.7 H461.7 V394.2 H459 V425.2 H456.3 V441.5 H453.6 V464.4 H450.9 V507.6 H448.2 V509 H445.5 V510.3 H442.8 V507.6 H440.1 V506.3 H437.4 V468.5 H434.7 V441.5 H432 V430.7 H429.3 V419.9 H426.6 V418.5 H423.9 V415.8 H421.2 V411.8 H418.5 V403.7 H415.8 V401 H413.1 V399.6 H410.4 V395.6 H407.7 V387.5 H405 V384.8 H402.3 V383.4 H399.6 V380.7 H396.9 V376.7 H394.2 V386.1 H391.5 V387.5 H388.8 V386.1 H387.7 Z"/>
<path d="M1784 585.9 V585.9 H1784.7 V583.2 H1787.4 V581.9 H1790.1 V579.2 H1792.8 V576.5 H1795.5 V569.7 H1798.2 V567 H1800.9 V564.3 H1803.6 V558.9 H1806.3 V554.9 H1809 V550.8 H1811.7 V546.8 H1814.4 V542.7 H1817.1 V538.7 H1819.8 V534.6 H1822.5 V531.9 H1825.2 V530.6 H1827.9 V523.8 H1830.6 V523.8 H1833.3 V525.2 H1836 V526.5 H1838.7 V522.5 H1841.4 V519.8 H1844.1 V518.4 H1846.8 V521.1 H1849.5 V521.1 H1852.2 V523.8 H1854.9 V527.9 H1857.6 V526.5 H1860.3 V529.2 H1863 V530.6 H1865.7 V530.6 H1868.4 V533.2 H1871.1 V533.2 H1873.8 V534.6 H1876.5 V536 H1879.2 V537.3 H1881.9 V537.3 H1884.6 V538.7 H1887.3 V542.7 H1890 V545.4 H1892.7 V542.7 H1895.4 V542.7 H1898.1 V548.1 H1900.8 V553.5 H1903.5 V554.9 H1906.2 V558.9 H1908.9 V561.6 H1911.6 V560.2 H1914.3 V557.6 H1917 V552.2 H1919.7 V546.8 H1922.4 V542.7 H1925.1 V542.7 H1927.8 V542.7 H1930.5 V544.1 H1933.2 V546.8 H1935.9 V554.9 H1938.6 V560.2 H1941.3 V563 H1944 V565.7 H1946.7 V567 H1949.4 V568.4 H1952.1 V571.1 H1954.8 V573.8 H1957.5 V572.4 H1960.2 V572.4 H1962.9 V573.8 H1965.6 V573.8 H1968.3 V577.8 H1971 V579.2 H1973.7 V584.6 H1976.4 V583.2 H1979.1 V580.5 H1981.8 V581.9 H1984.5 V577.8 H1987.2 V579.2 H1989.9 V579.2 H1992.6 V577.8 H1995.3 V579.2 H1998 V579.2 H2000.7 V579.2 H2003.4 V580.5 H2006.1 V580.5 H2008.8 V581.9 H2011.5 V581.9 H2014.2 V581.9 H2016.9 V580.5 H2019.6 V580.5 H2022.3 V580.5 H2025 V581.9 H2027.7 V580.5 H2030.4 V579.2 H2033.1 V579.2 H2035.8 V579.2 H2038.5 V579.2 H2041.2 V581.9 H2043.9 V581.9 H2046.6 V583.2 H2049.3 V584.6 H2052 V584.6 H2054.7 V583.2 H2057.4 V584.6 H2060.1 V584.6 H2062.8 V585.9 H2065.5 V588.6 H2068.2 V587.2 H2070.9 V588.6 H2073.6 V590 H2076.3 V590 H2079 V588.6 H2081.7 V588.6 H2084.4 V590 H2087.1 V592.7 H2089.8 V594 H2092.5 V594 H2095.2 V591.3 H2097.9 V592.7 H2100.6 V594 H2103.3 V596.7 H2106 V599.4 H2108.7 V598.1 H2111.4 V598.1 H2114.1 V598.1 H2116.8 V599.4 H2119.5 V600.8 H2122.2 V604.8 H2124.9 V604.8 H2127.6 V608.9 H2130.3 V610.2 H2133 V611.6 H2135.7 V615.6 H2138.4 V619.7 H2141.1 V621 H2143.8 V622.4 H2146.5 V622.4 H2149.2 V625.1 H2151.9 V629.1 H2154.6 V631.8 H2157.3 V635.9 H2160 V637.2 H2162.7 V639.9 H2165.4 V641.2 H2168.1 V641.2 H2170.8 V641.2 H2173.5 V642.6 H2176.2 V644 H2178.9 V644 H2181.6 V648 H2184.3 V652.1 H2187 V654.8 H2189.7 V676.4 H2187 V677.7 H2184.3 V679.1 H2181.6 V675 H2178.9 V672.3 H2176.2 V669.6 H2173.5 V666.9 H2170.8 V668.2 H2168.1 V669.6 H2165.4 V672.3 H2162.7 V669.6 H2160 V668.2 H2157.3 V666.9 H2154.6 V664.2 H2151.9 V660.2 H2149.2 V657.5 H2146.5 V653.4 H2143.8 V649.4 H2141.1 V644 H2138.4 V641.2 H2135.7 V641.2 H2133 V638.6 H2130.3 V634.5 H2127.6 V633.2 H2124.9 V630.5 H2122.2 V629.1 H2119.5 V629.1 H2116.8 V626.4 H2114.1 V625.1 H2111.4 V625.1 H2108.7 V623.7 H2106 V623.7 H2103.3 V623.7 H2100.6 V622.4 H2097.9 V621 H2095.2 V621 H2092.5 V619.7 H2089.8 V618.3 H2087.1 V618.3 H2084.4 V618.3 H2081.7 V617 H2079 V618.3 H2076.3 V618.3 H2073.6 V617 H2070.9 V617 H2068.2 V617 H2065.5 V617 H2062.8 V615.6 H2060.1 V611.6 H2057.4 V614.2 H2054.7 V614.2 H2052 V610.2 H2049.3 V610.2 H2046.6 V608.9 H2043.9 V608.9 H2041.2 V608.9 H2038.5 V607.5 H2035.8 V608.9 H2033.1 V610.2 H2030.4 V614.2 H2027.7 V611.6 H2025 V614.2 H2022.3 V614.2 H2019.6 V610.2 H2016.9 V611.6 H2014.2 V611.6 H2011.5 V610.2 H2008.8 V608.9 H2006.1 V607.5 H2003.4 V606.2 H2000.7 V607.5 H1998 V603.5 H1995.3 V606.2 H1992.6 V606.2 H1989.9 V606.2 H1987.2 V607.5 H1984.5 V604.8 H1981.8 V603.5 H1979.1 V604.8 H1976.4 V602.1 H1973.7 V600.8 H1971 V600.8 H1968.3 V600.8 H1965.6 V600.8 H1962.9 V599.4 H1960.2 V600.8 H1957.5 V599.4 H1954.8 V598.1 H1952.1 V596.7 H1949.4 V592.7 H1946.7 V591.3 H1944 V581.9 H1941.3 V584.6 H1938.6 V581.9 H1935.9 V579.2 H1933.2 V573.8 H1930.5 V572.4 H1927.8 V573.8 H1925.1 V577.8 H1922.4 V583.2 H1919.7 V585.9 H1917 V587.2 H1914.3 V587.2 H1911.6 V588.6 H1908.9 V585.9 H1906.2 V585.9 H1903.5 V584.6 H1900.8 V580.5 H1898.1 V580.5 H1895.4 V575.1 H1892.7 V572.4 H1890 V569.7 H1887.3 V568.4 H1884.6 V565.7 H1881.9 V563 H1879.2 V558.9 H1876.5 V557.6 H1873.8 V556.2 H1871.1 V557.6 H1868.4 V556.2 H1865.7 V554.9 H1863 V556.2 H1860.3 V554.9 H1857.6 V550.8 H1854.9 V549.5 H1852.2 V549.5 H1849.5 V549.5 H1846.8 V549.5 H1844.1 V549.5 H1841.4 V550.8 H1838.7 V553.5 H1836 V557.6 H1833.3 V558.9 H1830.6 V565.7 H1827.9 V571.1 H1825.2 V573.8 H1822.5 V577.8 H1819.8 V581.9 H1817.1 V583.2 H1814.4 V585.9 H1811.7 V590 H1809 V592.7 H1806.3 V598.1 H1803.6 V603.5 H1800.9 V607.5 H1798.2 V611.6 H1795.5 V617 H1792.8 V621 H1790.1 V623.7 H1787.4 V625.1 H1784.7 V623.7 H1784 Z"/>
<polyline points="1733,898 1737.5,900 1740.5,1026.5 1746.2,838 1756.5,1101.8 1762.5,474.8 1763.5,841.7 1770.3,836 1774.4,729 1775.7,670 1778.4,621 1784.5,604" fill="none" stroke="#ff7f0e" stroke-width="10.4" stroke-linejoin="bevel" stroke-linecap="butt"/>
</g>
<rect x="1756" y="499.5" width="13.5" height="6" fill="#fff"/>
<rect x="1838" y="499.5" width="13" height="6" fill="#fff"/>
</g>
<g id="frame" filter="url(#soft)">
<g id="axes">
<rect x="297.2" y="76.4" width="2.6" height="1212.3" fill="#eeeeee"/>
<rect x="302.6" y="76.4" width="2.5" height="1212.3" fill="#b0b0b0"/>
<rect x="2275.5" y="76.4" width="2.5" height="1212.3" fill="#6a6a6a"/>
<rect x="299.8" y="1286.1" width="1978.2" height="2.7" fill="#808080"/>
<rect x="299.8" y="76.4" width="2.8" height="1212.3" fill="#000"/>
<rect x="2273" y="76.4" width="2.5" height="1212.3" fill="#000"/>
<rect x="299.8" y="76.4" width="1978.2" height="5.5" fill="#000"/>
<rect x="299.8" y="1283.3" width="1978.2" height="2.8" fill="#000"/>
<g stroke="#000" stroke-width="4.3" fill="none">
<line x1="391.1" y1="1286" x2="391.1" y2="1304.9"/>
<line x1="656.8" y1="1286" x2="656.8" y2="1304.9"/>
<line x1="922.5" y1="1286" x2="922.5" y2="1304.9"/>
<line x1="1188.2" y1="1286" x2="1188.2" y2="1304.9"/>
<line x1="1453.9" y1="1286" x2="1453.9" y2="1304.9"/>
<line x1="1719.6" y1="1286" x2="1719.6" y2="1304.9"/>
<line x1="1985.2" y1="1286" x2="1985.2" y2="1304.9"/>
<line x1="2250.9" y1="1286" x2="2250.9" y2="1304.9"/>
<line x1="281" y1="137.4" x2="300" y2="137.4"/>
<line x1="281" y1="305.6" x2="300" y2="305.6"/>
<line x1="281" y1="473.8" x2="300" y2="473.8"/>
<line x1="281" y1="642" x2="300" y2="642"/>
<line x1="281" y1="810.2" x2="300" y2="810.2"/>
<line x1="281" y1="978.4" x2="300" y2="978.4"/>
<line x1="281" y1="1146.6" x2="300" y2="1146.6"/>
</g></g>
<g id="ticklabels" class="tk">
<text x="391.5" y="1364.6" text-anchor="middle">0</text>
<text x="657.2" y="1364.6" text-anchor="middle">2000</text>
<text x="922.9" y="1364.6" text-anchor="middle">4000</text>
<text x="1188.6" y="1364.6" text-anchor="middle">6000</text>
<text x="1454.3" y="1364.6" text-anchor="middle">8000</text>
<text x="1720" y="1364.6" text-anchor="middle">10000</text>
<text x="1985.6" y="1364.6" text-anchor="middle">12000</text>
<text x="2251.3" y="1364.6" text-anchor="middle">14000</text>
<text x="263.3" y="157.7" text-anchor="end">600</text>
<text x="263.3" y="325.9" text-anchor="end">550</text>
<text x="263.3" y="494.1" text-anchor="end">500</text>
<text x="263.3" y="662.3" text-anchor="end">450</text>
<text x="263.3" y="830.5" text-anchor="end">400</text>
<text x="263.3" y="998.7" text-anchor="end">350</text>
<text x="263.3" y="1166.9" text-anchor="end">300</text>
</g>
</g>
<text class="sf" font-size="65" x="1283.7" y="1433.6" text-anchor="middle" textLength="296" lengthAdjust="spacingAndGlyphs">Ping index</text>
<text class="sf" font-size="65" transform="translate(105.2,701.5) rotate(-90)" text-anchor="middle" textLength="582" lengthAdjust="spacingAndGlyphs">Bottom sample index</text>
<g id="legend">
<g filter="url(#soft)">
<rect x="1637.2" y="106.6" width="609.6" height="178.3" rx="6.4" ry="6.4" fill="#fff" fill-opacity="0.8" stroke="#d2d2d2" stroke-width="4.5"/>
<line x1="1655.5" y1="151.2" x2="1774" y2="151.2" stroke="#1f77b4" stroke-width="8.4"/>
<line x1="1655.5" y1="232.8" x2="1774" y2="232.8" stroke="#ff7f0e" stroke-width="8.4"/>
</g>
<text class="sf" font-size="57" x="1800.6" y="166.1" textLength="228" lengthAdjust="spacingAndGlyphs">Last Peak</text>
<text class="sf" font-size="57" x="1794.2" y="253.2" textLength="215" lengthAdjust="spacingAndGlyphs">1D-CNN</text>
<rect x="2037.8" y="180.6" width="6.2" height="2.2" fill="#3a3a3a"/>
</g>
<g id="marks" fill="none" stroke="#ff0000" stroke-width="8.7">
<ellipse cx="1167.8" cy="469.8" rx="83.3" ry="340.6"/>
<ellipse cx="1355.1" cy="781" rx="71.5" ry="105.5"/>
<ellipse cx="1945.8" cy="709.8" rx="71.5" ry="105.4"/>
<ellipse cx="2171.2" cy="976" rx="71.4" ry="274.7"/>
</g>
<g id="arrows" stroke="#000" stroke-width="5.7" fill="#000">
<line x1="1306.7" y1="428.5" x2="1290.8" y2="440.8"/><polygon stroke="none" points="1249.7,469.8 1275.8,419.5 1305.7,462.1"/>
<line x1="1555" y1="472.5" x2="1466.1" y2="598.1"/><polygon stroke="none" points="1437.6,639.3 1444.3,583.9 1487.9,612.4"/>
<line x1="1751.3" y1="456" x2="1863.6" y2="596"/><polygon stroke="none" points="1894.3,635.2 1844,611.1 1883.2,580.9"/>
<line x1="1919.2" y1="436.9" x2="2100.4" y2="681.1"/><polygon stroke="none" points="2130.2,721.9 2080.1,696 2120.8,666.2"/>
</g>
<text class="sf" font-size="70" x="1382.5" y="435.6" textLength="736" lengthAdjust="spacingAndGlyphs">Incorrect tracking results</text>
</svg></body></html>
